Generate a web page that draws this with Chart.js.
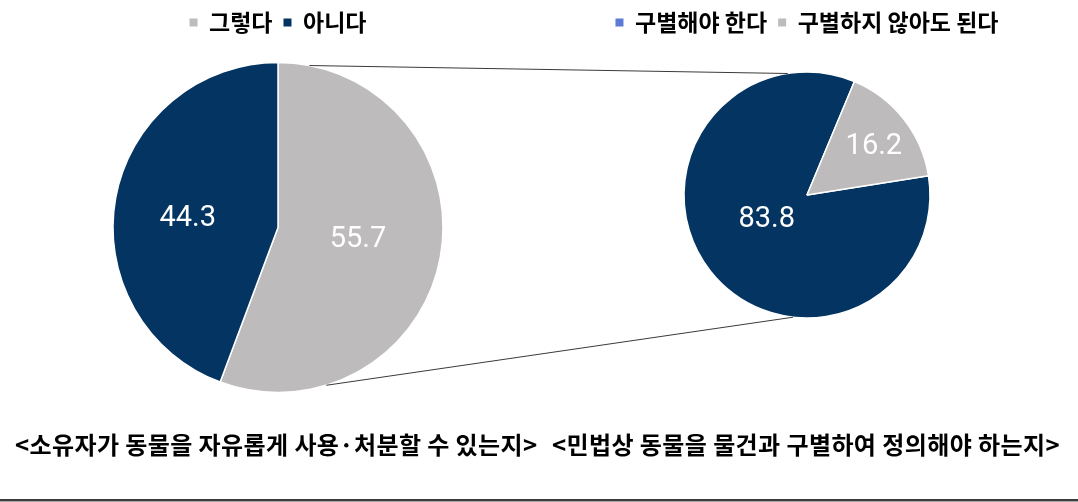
<!DOCTYPE html>
<html>
<head>
<meta charset="utf-8">
<script src="https://cdn.jsdelivr.net/npm/chart.js@4.4.0/dist/chart.umd.min.js"></script>
<style>
	html, body { margin:0; padding:0; background:#fff; }
	body { width:1078px; height:502px; position:relative; overflow:hidden; font-family:"Noto Sans CJK KR", sans-serif; }
	.box { position:absolute; top:0; height:420px; }
	.cap { position:absolute; top:429px; font-size:24px; font-weight:bold; letter-spacing:0.4px; line-height:30px; color:#000; white-space:nowrap; }
	#rule { position:absolute; left:0; top:499px; width:1078px; height:2px; background:#3c3c3c; border-bottom:1px solid #a8a8a8; }
	#links { position:absolute; left:0; top:0; pointer-events:none; }
</style>
</head>
<body>

<div class="box" id="leftBox" style="left:0; width:556px;"><canvas id="leftPie"></canvas></div>
<div class="box" id="rightBox" style="left:538px; width:538px;"><canvas id="rightPie"></canvas></div>
<canvas id="links" width="1078" height="502"></canvas>

<div class="cap" id="cap0" style="left:15px;"></div>
<div class="cap" id="cap1" style="left:552px;"></div>
<div id="rule"></div>

<script>
// ----------------------- data ----------------------------

var leftLabels = ['그렇다', '아니다'];
var leftValues = [55.7, 44.3];

var rightLabels = ['구별해야 한다', '구별하지 않아도 된다'];
var rightValues = [83.8, 16.2];

var captions = ['<소유자가 동물을 자유롭게 사용·처분할 수 있는지>',
				'<민법상 동물을 물건과 구별하여 정의해야 하는지>'];

// ----------------------- style ----------------------------

var NAVY = '#033462';
var GRAY = '#BDBBBC';
var BLUE = '#5B7BD6';

Chart.defaults.font.family = '"Noto Sans CJK KR", sans-serif';
Chart.defaults.devicePixelRatio = 1;

document.getElementById('cap0').textContent = captions[0];
document.getElementById('cap1').textContent = captions[1];

// white numbers inside the slices ( pos = [fraction of radius, angle shift in deg] )
var sliceLabels = {
	id : 'sliceLabels',
	afterDatasetsDraw : function(chart, args, opts) {
		var ctx = chart.ctx;
		var meta = chart.getDatasetMeta(0);
		var values = chart.data.datasets[0].data;
		ctx.save();
		ctx.fillStyle = '#fff';
		ctx.font = '29px Roboto';
		ctx.textAlign = 'center';
		ctx.textBaseline = 'middle';
		meta.data.forEach(function(arc, i) {
			var mid = (arc.startAngle + arc.endAngle) / 2 + opts.pos[i][1] * Math.PI / 180;
			var r = arc.outerRadius * opts.pos[i][0];
			ctx.fillText(values[i].toFixed(1), arc.x + Math.cos(mid) * r, arc.y + Math.sin(mid) * r);
		});
		ctx.restore();
	}
};

function makePie(id, labels, values, colors, legendColors, opt) {
	return new Chart(document.getElementById(id), {
		type : 'pie',
		data : {
			labels : labels,
			datasets : [ {
				data : values,
				backgroundColor : colors,
				borderColor : '#fff',
				borderWidth : 1.5,
				radius : opt.radius
			} ]
		},
		options : {
			responsive : true,
			maintainAspectRatio : false,
			animation : false,
			rotation : opt.rotation,
			layout : { padding : { bottom : opt.bottom } },
			plugins : {
				tooltip : { enabled : false },
				sliceLabels : { pos : opt.labelPos },
				legend : {
					position : 'top',
					labels : {
						boxWidth : 8,
						boxHeight : 8,
						padding : 11,
						color : '#111',
						font : { size : 23, weight : 'bold' },
						generateLabels : function(chart) {
							return labels.map(function(t, i) {
								return { text : t, fillStyle : legendColors[i], strokeStyle : legendColors[i], lineWidth : 0, index : i };
							});
						}
					}
				}
			}
		},
		plugins : [ sliceLabels ]
	});
}

var leftChart = makePie('leftPie', leftLabels, leftValues, [GRAY, NAVY], [GRAY, NAVY],
	{ radius : 165, rotation : 0, bottom : 9, labelPos : [[0.49, -1.5], [0.55, -4.7]] });

var rightChart = makePie('rightPie', rightLabels, rightValues, [NAVY, GRAY], [BLUE, GRAY],
	{ radius : 123, rotation : 81, bottom : 74, labelPos : [[0.385, 6.4], [0.67, 2.4]] });

// ----------------------- connector lines ----------------------------

function edgePoint(chart, boxId, deg) {
	var arc = chart.getDatasetMeta(0).data[0];
	var box = document.getElementById(boxId);
	var a = deg * Math.PI / 180;
	return [box.offsetLeft + arc.x + Math.sin(a) * arc.outerRadius,
			box.offsetTop + arc.y - Math.cos(a) * arc.outerRadius];
}

function drawLinks() {
	var ctx = document.getElementById('links').getContext('2d');
	var pairs = [ [11, 351], [163, 186.5] ];
	ctx.strokeStyle = '#3a3a3a';
	ctx.lineWidth = 1;
	pairs.forEach(function(p) {
		var a = edgePoint(leftChart, 'leftBox', p[0]);
		var b = edgePoint(rightChart, 'rightBox', p[1]);
		ctx.beginPath();
		ctx.moveTo(a[0], a[1]);
		ctx.lineTo(b[0], b[1]);
		ctx.stroke();
	});
}

drawLinks();
</script>
</body>
</html>
